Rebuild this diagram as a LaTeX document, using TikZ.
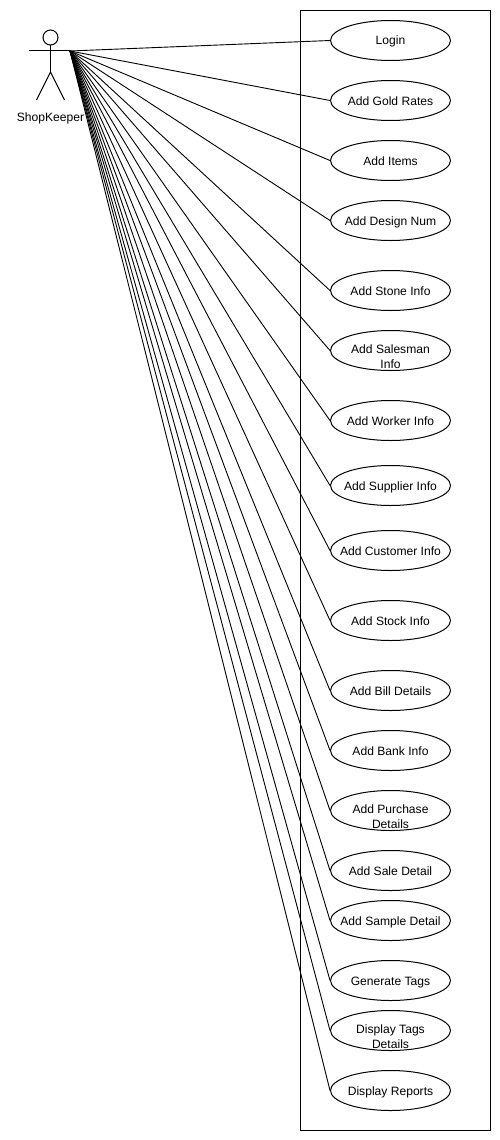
\documentclass[tikz,border=0pt]{standalone}
\usepackage{fontspec}
\setmainfont{Liberation Sans}
\usetikzlibrary{shapes.geometric}
\newcommand{\oneline}[1]{\makebox[0pt][c]{#1}}
\newcommand{\twolines}[2]{\raisebox{1.5pt}{\smash{\makebox[0pt][c]{\begin{tabular}[t]{@{}c@{}}#1\\#2\end{tabular}}}}}
\tikzset{
  usecase/.style={draw=black,line width=1pt,fill=none,ellipse,inner sep=0pt,minimum width=120pt,minimum height=40pt,
    text height=10pt,text depth=1pt,font=\fontsize{12.1}{15}\selectfont},
  link/.style={draw=black,line width=0.9pt},
  stick/.style={draw=black,line width=1pt},
}
\begin{document}
\begin{tikzpicture}[x=1pt,y=-1pt]
\useasboundingbox (0,0) rectangle (500,1140);
\node[draw=black,line width=1pt,minimum width=190pt,minimum height=1120pt,inner sep=0pt] (system) at (395.5,570.5) {};
% actor
\node[stick,circle,minimum size=15pt,inner sep=0pt] (head) at (50.5,37.5) {};
\coordinate (armL) at (29,51);
\coordinate (hand) at (70,51);
\coordinate (hip) at (50.5,72);
\coordinate (footL) at (36.5,100);
\coordinate (footR) at (64.5,100);
\draw[stick] (head.south) -- (hip);
\draw[stick] (armL) -- (hand);
\draw[stick] (footL) -- (hip) -- (footR);
\node[font=\fontsize{12.1}{15}\selectfont,inner sep=0pt,text height=10pt,text depth=1pt] (shop) at (50.5,117) {ShopKeeper};
% use cases
\node[usecase] (u1) at (390.5,40.5) {\oneline{Login}};
\node[usecase] (u2) at (390.5,100.5) {\oneline{Add Gold Rates}};
\node[usecase] (u3) at (390.5,160.5) {\oneline{Add Items}};
\node[usecase] (u4) at (390.5,220.5) {\oneline{Add Design Num}};
\node[usecase] (u5) at (390.5,290.5) {\oneline{Add Stone Info}};
\node[usecase] (u6) at (390.5,350.5) {\twolines{Add Salesman}{Info}};
\node[usecase] (u7) at (390.5,420.5) {\oneline{Add Worker Info}};
\node[usecase] (u8) at (390.5,485.5) {\oneline{Add Supplier Info}};
\node[usecase] (u9) at (390.5,550.5) {\oneline{Add Customer Info}};
\node[usecase] (u10) at (390.5,620.5) {\oneline{Add Stock Info}};
\node[usecase] (u11) at (390.5,690.5) {\oneline{Add Bill Details}};
\node[usecase] (u12) at (390.5,750.5) {\oneline{Add Bank Info}};
\node[usecase] (u13) at (390.5,810.5) {\twolines{Add Purchase}{Details}};
\node[usecase] (u14) at (390.5,870.5) {\oneline{Add Sale Detail}};
\node[usecase] (u15) at (390.5,920.5) {\oneline{Add Sample Detail}};
\node[usecase] (u16) at (390.5,980.5) {\oneline{Generate Tags}};
\node[usecase] (u17) at (390.5,1030.5) {\twolines{Display Tags}{Details}};
\node[usecase] (u18) at (390.5,1090.5) {\oneline{Display Reports}};
\foreach \i in {1,...,18} \draw[link] (hand) -- (u\i.west);
\end{tikzpicture}
\end{document}
